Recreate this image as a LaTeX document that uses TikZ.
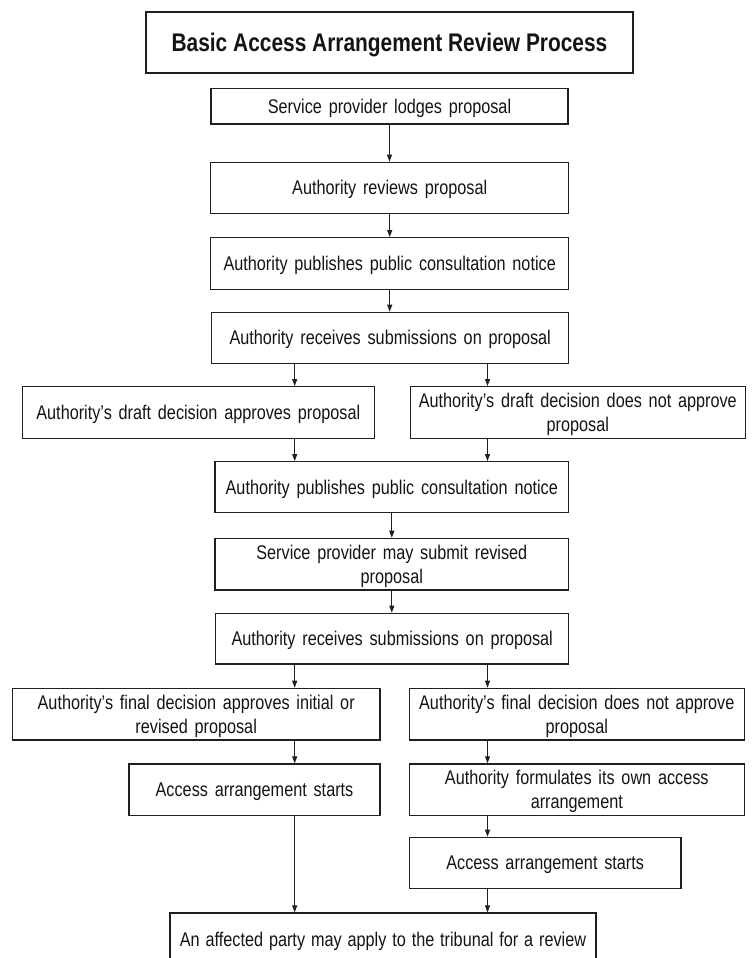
\documentclass[tikz,border=0pt]{standalone}
\usepackage{fontspec}
\setmainfont{Liberation Sans}[FakeStretch=0.82]
\usetikzlibrary{arrows.meta}
\newcommand\myboxfont{\fontsize{19.8}{24}\selectfont\spaceskip=6.8pt plus 1pt minus 1pt\relax}
\newcommand\myfinfont{\fontsize{19.8}{24}\selectfont\spaceskip=5.9pt plus 1pt minus 1pt\relax}
\begin{document}
\begin{tikzpicture}[x=1pt,y=-1pt,
  box/.style={draw=black!88, line width=1.3pt, inner sep=0pt, align=center, text=black!92,
    text depth=0pt, font=\myboxfont},
  arr/.style={draw=black!88, line width=1pt, -{Triangle[length=7pt,width=5pt]}}]
\useasboundingbox (0,0) rectangle (752,958);
\coordinate (xl) at (294.7,0);
\coordinate (xr) at (487.5,0);
\begin{scope}
\clip (0,0) rectangle (752,958);
\node[box, font=\fontsize{25.5}{30}\selectfont\bfseries, minimum width=487pt, minimum height=61pt] (title) at (389.5,42.5) {Basic Access Arrangement Review Process};
\node[box, minimum width=357pt, minimum height=35.7pt] (b1) at (389.5,106.2) {Service provider lodges proposal};
\node[box, minimum width=358pt, minimum height=51pt] (b2) at (389.7,187.8) {Authority reviews proposal};
\node[box, minimum width=358pt, minimum height=51.6pt] (b3) at (389.7,263.5) {Authority publishes public consultation notice};
\node[box, minimum width=357pt, minimum height=51pt] (b4) at (390.2,337.8) {Authority receives submissions on proposal};
\node[box, minimum width=352pt, minimum height=51.6pt] (b5L) at (198.3,412.5) {Authority's draft decision approves proposal};
\node[box, minimum width=335pt, minimum height=51.6pt] (b5R) at (577.8,412.5) {Authority's draft decision does not approve\\proposal};
\node[box, minimum width=353.7pt, minimum height=51pt] (b6) at (391.8,487.2) {Authority publishes public consultation notice};
\node[box, minimum width=353.7pt, minimum height=51.7pt] (b7) at (391.8,564.2) {Service provider may submit revised\\proposal};
\node[box, minimum width=353pt, minimum height=50.7pt] (b8) at (392.2,638.7) {Authority receives submissions on proposal};
\node[box, minimum width=367.7pt, minimum height=51.7pt] (b9L) at (196.2,714.2) {Authority's final decision approves initial or\\revised proposal};
\node[box, minimum width=335pt, minimum height=51.7pt] (b9R) at (576.8,714.2) {Authority's final decision does not approve\\proposal};
\node[box, minimum width=251pt, minimum height=51.7pt] (b10L) at (254.5,789.8) {Access arrangement starts};
\node[box, minimum width=335pt, minimum height=51.7pt] (b10R) at (576.8,789.8) {Authority formulates its own access\\arrangement};
\node[box, minimum width=271.7pt, minimum height=51pt] (b11R) at (545.2,862.8) {Access arrangement starts};
\node[box, font=\myfinfont, minimum width=426pt, minimum height=52pt] (fin) at (383,939) {An affected party may apply to the tribunal for a review};

\draw[arr] (b1.south) -- (b1.south |- b2.north);
\draw[arr] (b2.south) -- (b2.south |- b3.north);
\draw[arr] (b3.south) -- (b3.south |- b4.north);
\draw[arr] (b4.south -| xl) -- (b5L.north -| xl);
\draw[arr] (b4.south -| xr) -- (b5R.north -| xr);
\draw[arr] (b5L.south -| xl) -- (b6.north -| xl);
\draw[arr] (b5R.south -| xr) -- (b6.north -| xr);
\draw[arr] (b6.south) -- (b6.south |- b7.north);
\draw[arr] (b7.south) -- (b7.south |- b8.north);
\draw[arr] (b8.south -| xl) -- (b9L.north -| xl);
\draw[arr] (b8.south -| xr) -- (b9R.north -| xr);
\draw[arr] (b9L.south -| xl) -- (b10L.north -| xl);
\draw[arr] (b9R.south -| xr) -- (b10R.north -| xr);
\draw[arr] (b10R.south -| xr) -- (b11R.north -| xr);
\draw[arr] (b10L.south -| xl) -- (fin.north -| xl);
\draw[arr] (b11R.south -| xr) -- (fin.north -| xr);
\end{scope}
\end{tikzpicture}
\end{document}
